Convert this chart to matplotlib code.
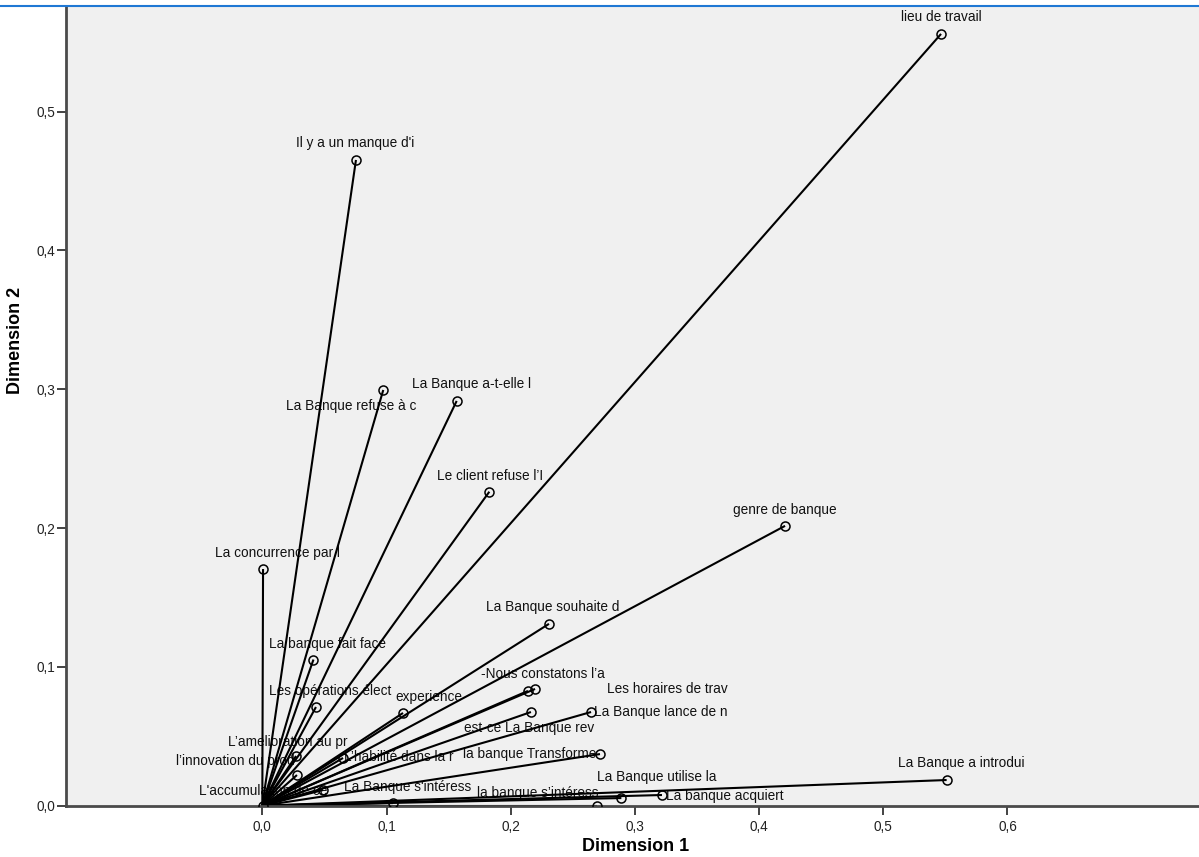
import matplotlib
matplotlib.use("Agg")
import matplotlib.pyplot as plt
from matplotlib.lines import Line2D
from matplotlib.ticker import FuncFormatter

plt.rcParams['font.family'] = ['Liberation Sans', 'DejaVu Sans']

# ---- data (discrimination measures) ----
labels = [
    "lieu de travail", "Il y a un manque d'i", "La Banque refuse à c",
    "La Banque a-t-elle l", "Le client refuse l’I", "genre de banque",
    "La concurrence par l", "La Banque souhaite d", "La banque fait face",
    "-Nous constatons l’a", "Les opérations élect", "experience",
    "Les horaires de trav", "La Banque lance de n", "est-ce La Banque rev",
    "L’amelioration au pr", "l’innovation du prod", "L’habilité dans la r",
    "la banque Transforme", "L'accumulation de ce", "",
    "La Banque s'intéress", "la banque s’intéress", "La Banque utilise la",
    "La banque acquiert", "La Banque a introdui",
]
dim1 = [0.5465, 0.0754, 0.0974, 0.1565, 0.1828, 0.4209,
        0.0006, 0.2308, 0.0412, 0.2196, 0.0432, 0.1133,
        0.2139, 0.2647, 0.2163, 0.0272, 0.0279, 0.0650,
        0.2719, 0.0006, 0.0489, 0.1052, 0.2691, 0.2891,
        0.3218, 0.5510]
dim2 = [0.5560, 0.4652, 0.2995, 0.2916, 0.2262, 0.2016,
        0.1705, 0.1310, 0.1053, 0.0841, 0.0711, 0.0668,
        0.0827, 0.0675, 0.0675, 0.0358, 0.0221, 0.0344,
        0.0372, 0.0000, 0.0113, 0.0019, 0.0000, 0.0055,
        0.0077, 0.0185]

xticks = [0.0, 0.1, 0.2, 0.3, 0.4, 0.5, 0.6]
yticks = [0.0, 0.1, 0.2, 0.3, 0.4, 0.5]

# label placement (pixel offsets from the point: dx right, dy up)
label_dx = [0, -1, -32, 15, 1, 0, 14, 4, 14, 8, 14, 26, 139, 70, -2,
            -8, -62, 56, -70, 0, 0, 15, -59, 35, 63, 15]
label_dy = [17, 17, -16, 17, 16, 16, 16, 17, 16, 15, 16, 16, 2, 0, -16,
            14, 14, 1, 0, 15, 0, 16, 13, 21, -1, 17]

W, H = 1199, 857
fig = plt.figure(figsize=(W / 100, H / 100), dpi=100)
fig.patch.set_facecolor('white')
ax = fig.add_axes([65.7 / W, (H - 805.7) / H, 1 - 65.7 / W, (805.7 - 7) / H])
ax.set_facecolor('#f0f0f0')
ax.set_xlim(-0.1583, 0.7542)
ax.set_ylim(0.0, 0.5754)

for x, y in zip(dim1, dim2):
    ax.plot([0, x], [0, y], color='black', lw=1.5, zorder=2, solid_capstyle='butt')
ax.plot(dim1, dim2, linestyle='none', marker='o', markersize=6.5,
        markerfacecolor='none', markeredgecolor='black', markeredgewidth=1.1, zorder=3)

for lab, x, y, dx, dy in zip(labels, dim1, dim2, label_dx, label_dy):
    if lab:
        ax.annotate(lab, (x, y), xytext=(dx, dy), textcoords='offset pixels',
                    ha='center', va='center', fontsize=9.8, color='#111111',
                    zorder=1, annotation_clip=False)

fmt = FuncFormatter(lambda v, p: f"{v:.1f}".replace('.', ','))
ax.set_xticks(xticks)
ax.set_yticks(yticks)
ax.xaxis.set_major_formatter(fmt)
ax.yaxis.set_major_formatter(fmt)
ax.tick_params(axis='both', length=6.5, width=1.2, color='#222222',
               labelsize=9.8, labelcolor='#222222', direction='out')
ax.tick_params(axis='x', pad=4)
ax.tick_params(axis='y', pad=1)

for s in ['top', 'right']:
    ax.spines[s].set_visible(False)
for s in ['left', 'bottom']:
    ax.spines[s].set_color('#4a4a4a')
    ax.spines[s].set_linewidth(2.0)

fig.text(15.5 / W, 1 - 340 / H, "Dimension 2", rotation=90, ha='center', va='center',
         fontsize=13, fontweight='bold', color='black')
fig.text(636 / W, 1 - 855 / H, "Dimension 1", ha='center', va='bottom',
         fontsize=13, fontweight='bold', color='black')

fig.add_artist(Line2D([0, 1], [1 - 6 / H, 1 - 6 / H], transform=fig.transFigure,
                      color='#1f78d4', lw=1.5))

fig.savefig('out.png', dpi=100)
